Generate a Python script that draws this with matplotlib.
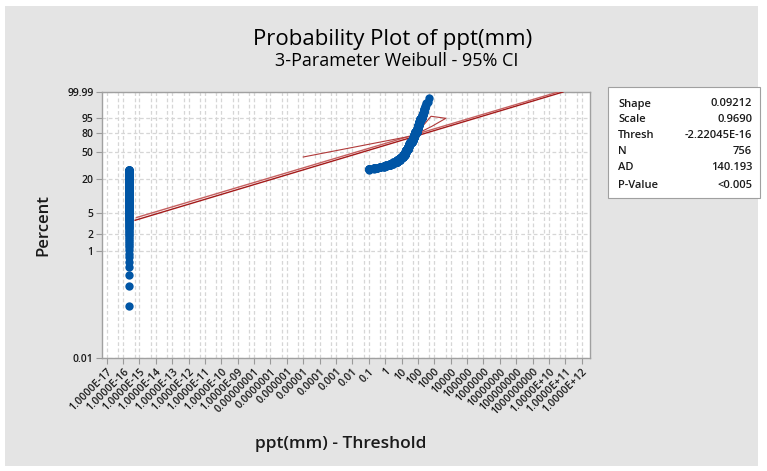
import numpy as np
import matplotlib
matplotlib.use("Agg")
import matplotlib.pyplot as plt
from matplotlib.patches import Rectangle
from matplotlib.ticker import FixedLocator, NullFormatter

plt.rcParams["font.family"] = ["Open Sans", "DejaVu Sans"]

# data
THRESH = -2.22045e-16
N = 756
ppt_values = [0, 0.1, 0.2, 0.3, 0.5, 0.8, 1.2, 2, 3, 5, 8, 12, 16, 20, 25, 30, 35, 42,
              50, 60, 70, 85, 100, 120, 140, 170, 200, 240, 270, 330, 400, 490]
ppt_counts = [211, 8, 5, 4, 6, 7, 7, 12, 14, 22, 25, 28, 30, 30, 35, 30, 22, 24,
              30, 32, 30, 33, 28, 26, 18, 14, 9, 8, 4, 2, 1, 1]

fit_x = [5.4e-16, 7.2e10]
fit_pct = [3.65, 99.99]
ci_outer_x = [6.6e-16, 3.6e10]
ci_outer_pct = [4.1, 99.99]
ci_mid_x = [1e-5, 66, 631, 5100, 720, 101]
ci_mid_pct = [43.1, 76.1, 96.1, 94.9, 87.9, 79.0]

x_tick_vals = [10.0 ** k for k in range(-17, 13)]
x_tick_labels = ["1.0000E-17", "1.0000E-16", "1.0000E-15", "1.0000E-14", "1.0000E-13",
                 "1.0000E-12", "1.0000E-11", "1.0000E-10", "1.0000E-09", "0.00000001",
                 "0.0000001", "0.000001", "0.00001", "0.0001", "0.001", "0.01", "0.1",
                 "1", "10", "100", "1000", "10000", "100000", "1000000", "10000000",
                 "100000000", "1000000000", "1.0000E+10", "1.0000E+11", "1.0000E+12"]
y_tick_vals = [0.01, 1, 2, 5, 20, 50, 80, 95, 99.99]
y_tick_labels = ["0.01", "1", "2", "5", "20", "50", "80", "95", "99.99"]

stats_names = ["Shape", "Scale", "Thresh", "N", "AD", "P-Value"]
stats_vals = ["0.09212", "0.9690", "-2.22045E-16", "756", "140.193", "<0.005"]


def weib_fwd(p):
    p = np.clip(np.asarray(p, dtype=float), 1e-9, 100 - 1e-9) / 100.0
    return np.log(-np.log(1 - p))


def weib_inv(t):
    return 100.0 * (1 - np.exp(-np.exp(np.asarray(t, dtype=float))))


W, H = 767, 471
fig = plt.figure(figsize=(W / 100, H / 100), dpi=100)
fig.patch.set_facecolor("white")
fig.patches.append(Rectangle((5 / W, 5 / H), 753 / W, 460 / H, transform=fig.transFigure,
                             facecolor="#E4E4E4", edgecolor="none", zorder=-10))

ax = fig.add_axes([102 / W, 113 / H, 488 / W, 266 / H])
ax.set_xscale("log")
ax.set_yscale("function", functions=(weib_fwd, weib_inv))
ax.set_xlim(10 ** -17.287, 10 ** 12.507)
ax.set_ylim(0.01, 99.99)

ax.xaxis.set_major_locator(FixedLocator(x_tick_vals))
ax.xaxis.set_minor_locator(FixedLocator([5 * 10.0 ** k for k in range(-18, 13)]))
ax.xaxis.set_minor_formatter(NullFormatter())
ax.set_xticklabels(x_tick_labels, rotation=45, ha="right", rotation_mode="anchor",
                   fontsize=7.7, fontweight="semibold", color="#1A1A1A")
ax.yaxis.set_major_locator(FixedLocator(y_tick_vals))
ax.yaxis.set_minor_locator(FixedLocator([]))
ax.set_yticklabels(y_tick_labels, fontsize=7.5, fontweight="semibold", color="#1A1A1A")

ax.tick_params(which="major", length=4, width=0.8, color="#9A9A9A", pad=2)
ax.tick_params(which="minor", length=0)
ax.grid(which="both", axis="x", color="#D6D6D6", linestyle=(0, (3, 2)), linewidth=0.9)
ax.grid(which="major", axis="y", color="#D6D6D6", linestyle=(0, (3, 2)), linewidth=0.9)
ax.set_axisbelow(True)
for s in ax.spines.values():
    s.set_color("#A0A0A0")
    s.set_linewidth(1.0)

# fitted line and confidence bounds
ax.plot(fit_x, fit_pct, color="#A31A1A", lw=1.0, zorder=3)
ax.plot(ci_outer_x, ci_outer_pct, color="#C56060", lw=1.0, zorder=3)
ax.plot(ci_mid_x, ci_mid_pct, color="#B03A3A", lw=0.8, zorder=3)

# data points with median rank plotting positions
x_pts = np.repeat(ppt_values, ppt_counts) - THRESH
ranks = np.arange(1, N + 1)
pct = (ranks - 0.3) / (N + 0.4) * 100
ax.plot(x_pts, pct, "o", color="#0055A5", ms=6, mec="none", zorder=5)

# titles and axis labels
fig.text(393 / W, 1 - 39 / H, "Probability Plot of ppt(mm)", ha="center", va="center",
         fontsize=16)
fig.text(397 / W, 1 - 61 / H, "3-Parameter Weibull - 95% CI", ha="center", va="center",
         fontsize=13)
fig.text(341 / W, 1 - 444 / H, "ppt(mm) - Threshold", ha="center", va="center",
         fontsize=12.5, fontweight="semibold", color="#1A1A1A")
fig.text(43 / W, 1 - 225 / H, "Percent", ha="center", va="center", rotation=90,
         fontsize=12, fontweight="semibold", color="#1A1A1A")

# statistics box
fig.patches.append(Rectangle((608 / W, 1 - 198 / H), 152 / W, 111 / H,
                             transform=fig.transFigure, facecolor="white",
                             edgecolor="#A0A0A0", linewidth=0.8))
row_y = [104, 120, 136, 152, 168, 186]
for name, val, yy in zip(stats_names, stats_vals, row_y):
    fig.text(618 / W, 1 - yy / H, name, ha="left", va="center", fontsize=8,
             fontweight="semibold", color="#1A1A1A")
    fig.text(752 / W, 1 - yy / H, val, ha="right", va="center", fontsize=8,
             fontweight="semibold", color="#1A1A1A")

fig.savefig("out.png", dpi=100)
